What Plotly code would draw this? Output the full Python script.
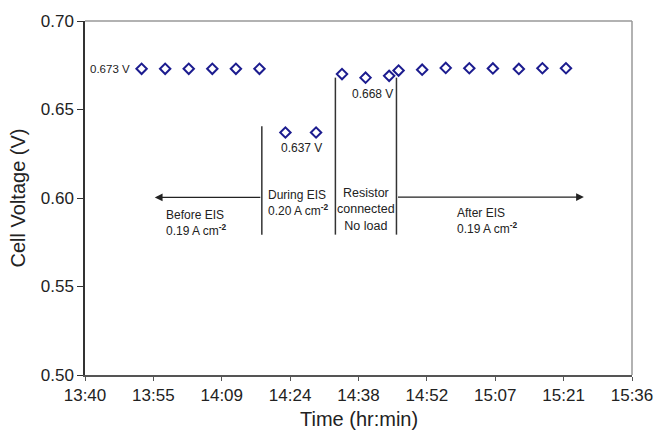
import plotly.graph_objects as go

# Data
times = ["13:52", "13:57", "14:02", "14:07", "14:12", "14:17", "14:22.5", "14:29",
         "14:34.5", "14:39.5", "14:44.5", "14:46.5", "14:51.5", "14:56.5", "15:01.5",
         "15:06.5", "15:12", "15:17", "15:22"]
voltages = [0.673, 0.673, 0.673, 0.673, 0.673, 0.673, 0.637, 0.637,
            0.670, 0.668, 0.669, 0.672, 0.6725, 0.6735, 0.6733, 0.6732, 0.6729, 0.6733, 0.6733]
tick_labels = ["13:40", "13:55", "14:09", "14:24", "14:38", "14:52", "15:07", "15:21", "15:36"]

def to_min(s):
    h, m = s.split(":")
    return int(h) * 60 + float(m)

x = [to_min(t) for t in times]
x0 = to_min("13:40")
x1 = to_min("15:36")
tickvals = [x0 + i * (x1 - x0) / 8 for i in range(9)]

FONT = "Liberation Sans, Arial, sans-serif"
navy = "#1c1c8f"

fig = go.Figure()
fig.add_trace(go.Scatter(
    x=x, y=voltages, mode="markers",
    marker=dict(symbol="diamond-open", size=8, color=navy, line=dict(width=2, color=navy)),
    showlegend=False, hoverinfo="skip"))

def m(v):
    return x0 + v

line_col = "#333333"
shapes = [
    dict(type="line", xref="x", yref="y", x0=m(37.5), x1=m(37.5), y0=0.5793, y1=0.6406,
         line=dict(color=line_col, width=1.5)),
    dict(type="line", xref="x", yref="y", x0=m(53.1), x1=m(53.1), y0=0.5793, y1=0.668,
         line=dict(color=line_col, width=1.5)),
    dict(type="line", xref="x", yref="y", x0=m(66.05), x1=m(66.05), y0=0.5793, y1=0.668,
         line=dict(color=line_col, width=1.5)),
]

ann = []
# arrows
ann.append(dict(x=m(14.8), y=0.6003, ax=m(37.5), ay=0.6003, xref="x", yref="y",
                axref="x", ayref="y", showarrow=True, arrowhead=2, arrowsize=1.2,
                arrowwidth=1.3, arrowcolor="#222222", text=""))
ann.append(dict(x=m(105.8), y=0.6005, ax=m(66.05), ay=0.6005, xref="x", yref="y",
                axref="x", ayref="y", showarrow=True, arrowhead=2, arrowsize=1.2,
                arrowwidth=1.3, arrowcolor="#222222", text=""))

def txt(xv, yv, s, size=11, anchor="left", align="left"):
    ann.append(dict(x=xv, y=yv, xref="x", yref="y", text=s, showarrow=False,
                    xanchor=anchor, yanchor="middle", align=align,
                    font=dict(family=FONT, size=size, color="#222222")))

txt(m(10.0), 0.673, "0.673 V", size=11.5, anchor="right")
txt(m(46.0), 0.628, "0.637 V", size=12, anchor="center")
txt(m(60.9), 0.659, "0.668 V", size=12, anchor="center")
txt(m(38.3), 0.5972, "During EIS<br>0.20 A cm<sup><b>-2</b></sup>", size=12)
txt(m(59.5), 0.5935, "Resistor<br>connected<br>No load", size=12.5, anchor="center", align="center")
txt(m(16.8), 0.5857, "Before EIS<br>0.19 A cm<sup><b>-2</b></sup>", size=12)
txt(m(78.5), 0.5871, "After EIS<br>0.19 A cm<sup><b>-2</b></sup>", size=12)

# x-axis title as a paper annotation
ann.append(dict(x=0.5, y=-0.125, xref="paper", yref="paper", text="Time (hr:min)",
                showarrow=False, xanchor="center", yanchor="middle",
                font=dict(family=FONT, size=20, color="#222222")))

fig.update_layout(
    width=656, height=435,
    margin=dict(l=85, r=24, t=16, b=60),
    paper_bgcolor="white", plot_bgcolor="white",
    font=dict(family=FONT, color="#222222"),
    shapes=shapes, annotations=ann,
    xaxis=dict(range=[x0, x1], tickvals=tickvals, ticktext=tick_labels,
               showgrid=False, zeroline=False, showline=True, linecolor="#555555",
               linewidth=1.5, mirror=False, ticks="outside", ticklen=4, tickcolor="#555555",
               tickfont=dict(size=17, family=FONT), automargin=False),
    yaxis=dict(range=[0.5, 0.7], tickvals=[0.5, 0.55, 0.6, 0.65, 0.7],
               ticktext=["0.50", "0.55", "0.60", "0.65", "0.70"],
               showgrid=False, zeroline=False, showline=True, linecolor="#333333",
               linewidth=1.5, ticks="outside", ticklen=6, tickcolor="#333333",
               tickfont=dict(size=17, family=FONT),
               title=dict(text="Cell Voltage (V)", font=dict(size=20, family=FONT), standoff=10)),
)
# gray frame on top and right
fig.add_shape(type="line", xref="paper", yref="paper", x0=0, x1=1, y0=1, y1=1,
              line=dict(color="#999999", width=1.5))
fig.add_shape(type="line", xref="paper", yref="paper", x0=1, x1=1, y0=0, y1=1,
              line=dict(color="#999999", width=1.5))

fig.write_html("out.html")
